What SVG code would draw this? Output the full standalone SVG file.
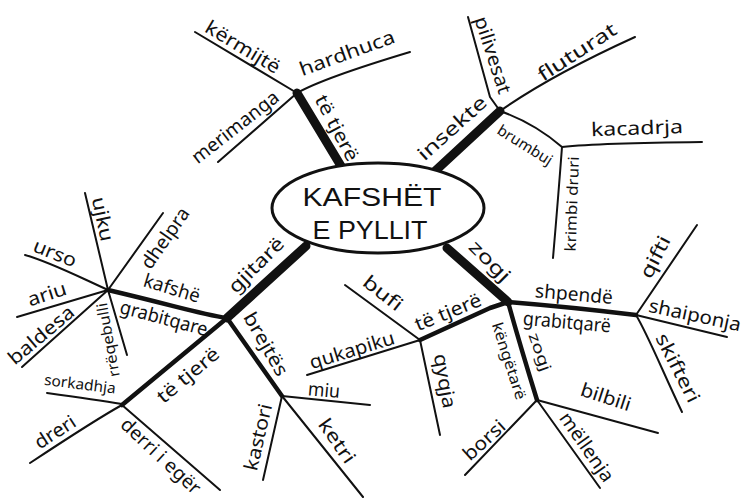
<svg xmlns="http://www.w3.org/2000/svg" width="747" height="498" viewBox="0 0 747 498">
<style>
.c{fill:none;stroke:#111;stroke-linecap:round;stroke-linejoin:round;stroke-width:2}
.m{stroke-width:4.5}
.k{stroke-width:9}
.t{font-family:"Noto Sans","Liberation Sans",sans-serif;font-size:19px;fill:#111;text-anchor:middle}
.s{font-size:15px}
.ti{font-family:"Liberation Sans","Noto Sans",sans-serif;font-size:25px;fill:#111;text-anchor:middle}
</style>
<rect width="747" height="498" fill="#fff"/>
<g id="connectors">
<path class="c k" d="M341,166 L297,93"/>
<path class="c k" d="M433,173 L500,111"/>
<path class="c k" d="M306,246 L227,318"/>
<path class="c k" d="M447,248 L508,302"/>
<path class="c m" d="M227,318 C200,314 180,307 108,290"/>
<path class="c m" d="M227,318 L122,405"/>
<path class="c m" d="M227,318 L282,396"/>
<path class="c m" d="M508,302 Q570,307 636,315"/>
<path class="c m" d="M508,302 Q520,345 537,400"/>
<path class="c m" d="M508,302 L490,308 L420,340"/>
<path class="c" d="M195,32 L297,93"/>
<path class="c" d="M297,93 C320,80 360,67 410,52"/>
<path class="c" d="M297,93 L218,162"/>
<path class="c" d="M468,17 Q480,60 490,97 L500,111"/>
<path class="c" d="M500,111 C530,90 580,62 635,37"/>
<path class="c" d="M500,111 C520,118 540,128 562,147"/>
<path class="c" d="M562,147 Q600,143 702,142"/>
<path class="c" d="M562,147 Q558,200 553,258"/>
<path class="c" d="M85,193 L108,290"/>
<path class="c" d="M108,290 L163,213"/>
<path class="c" d="M25,255 C50,262 75,275 108,290"/>
<path class="c" d="M108,290 L17,317"/>
<path class="c" d="M108,290 L22,367"/>
<path class="c" d="M108,290 L127,355"/>
<path class="c" d="M282,396 Q320,400 370,405"/>
<path class="c" d="M282,396 L263,480"/>
<path class="c" d="M282,396 L363,497"/>
<path class="c" d="M47,393 Q97,400 122,404"/>
<path class="c" d="M122,405 C100,417 80,430 30,463"/>
<path class="c" d="M122,405 L220,490"/>
<path class="c" d="M636,315 L697,225"/>
<path class="c" d="M636,315 L727,337"/>
<path class="c" d="M636,315 C648,335 662,370 682,412"/>
<path class="c" d="M537,400 L658,433"/>
<path class="c" d="M537,400 L600,488"/>
<path class="c" d="M537,400 L465,475"/>
<path class="c" d="M345,285 L420,340"/>
<path class="c" d="M420,340 L307,375"/>
<path class="c" d="M420,340 L440,435"/>
</g>
<g id="center">
<ellipse cx="378" cy="208" rx="106" ry="45" fill="#fff" stroke="#111" stroke-width="3"/>
<text class="ti" x="372" y="206" textLength="139" lengthAdjust="spacingAndGlyphs">KAFSHËT</text>
<text class="ti" x="370" y="239" textLength="115" lengthAdjust="spacingAndGlyphs">E PYLLIT</text>
</g>
<g id="te-tjere-top"><text class="t" transform="translate(337,128) rotate(62)" dy="0.35em" textLength="72" lengthAdjust="spacingAndGlyphs">të tjerë</text></g>
<g id="kermijte"><text class="t" transform="translate(243,47) rotate(31)" dy="0.35em" textLength="84" lengthAdjust="spacingAndGlyphs">kërmijtë</text></g>
<g id="hardhuca"><text class="t" transform="translate(347,53) rotate(-20)" dy="0.35em" textLength="100" lengthAdjust="spacingAndGlyphs">hardhuca</text></g>
<g id="merimanga"><text class="t" transform="translate(235,127) rotate(-38)" dy="0.35em" textLength="105" lengthAdjust="spacingAndGlyphs">merimanga</text></g>
<g id="insekte"><text class="t" transform="translate(452,128) rotate(-42)" dy="0.35em" textLength="86" lengthAdjust="spacingAndGlyphs">insekte</text></g>
<g id="pilivesat"><text class="t" transform="translate(493,55) rotate(72)" dy="0.35em" textLength="80" lengthAdjust="spacingAndGlyphs">pilivesat</text></g>
<g id="fluturat"><text class="t" transform="translate(577,52) rotate(-33)" dy="0.35em" textLength="90" lengthAdjust="spacingAndGlyphs">fluturat</text></g>
<g id="brumbuj"><text class="t s" transform="translate(525,145) rotate(32)" dy="0.35em" textLength="62" lengthAdjust="spacingAndGlyphs">brumbuj</text></g>
<g id="kacadrja"><text class="t" transform="translate(637,128) rotate(-2)" dy="0.35em" textLength="92" lengthAdjust="spacingAndGlyphs">kacadrja</text></g>
<g id="krimbi-druri"><text class="t s" transform="translate(572,204) rotate(-88)" dy="0.35em" textLength="95" lengthAdjust="spacingAndGlyphs">krimbi druri</text></g>
<g id="gjitare"><text class="t" transform="translate(256,265) rotate(-45)" dy="0.35em" textLength="70" lengthAdjust="spacingAndGlyphs">gjitarë</text></g>
<g id="kafshe-grabitqare"><text class="t" transform="translate(172,288) rotate(17)" dy="0.35em" textLength="58" lengthAdjust="spacingAndGlyphs">kafshë</text><text class="t" transform="translate(164,318) rotate(15)" dy="0.35em" textLength="90" lengthAdjust="spacingAndGlyphs">grabitqare</text></g>
<g id="ujku"><text class="t" transform="translate(103,219) rotate(78)" dy="0.35em" textLength="45" lengthAdjust="spacingAndGlyphs">ujku</text></g>
<g id="dhelpra"><text class="t" transform="translate(165,238) rotate(-55)" dy="0.35em" textLength="70" lengthAdjust="spacingAndGlyphs">dhelpra</text></g>
<g id="urso"><text class="t" transform="translate(55,253) rotate(22)" dy="0.35em" textLength="45" lengthAdjust="spacingAndGlyphs">urso</text></g>
<g id="ariu"><text class="t" transform="translate(47,294) rotate(-18)" dy="0.35em" textLength="40" lengthAdjust="spacingAndGlyphs">ariu</text></g>
<g id="baldesa"><text class="t" transform="translate(41,335) rotate(-40)" dy="0.35em" textLength="80" lengthAdjust="spacingAndGlyphs">baldesa</text></g>
<g id="rreqebulli"><text class="t s" transform="translate(108,340) rotate(-100)" dy="0.35em" textLength="75" lengthAdjust="spacingAndGlyphs">rrëqebulli</text></g>
<g id="brejtes"><text class="t" transform="translate(266,344) rotate(60)" dy="0.35em" textLength="70" lengthAdjust="spacingAndGlyphs">brejtës</text></g>
<g id="miu"><text class="t" transform="translate(324,390) rotate(5)" dy="0.35em" textLength="32" lengthAdjust="spacingAndGlyphs">miu</text></g>
<g id="kastori"><text class="t" transform="translate(258,437) rotate(-77)" dy="0.35em" textLength="68" lengthAdjust="spacingAndGlyphs">kastori</text></g>
<g id="ketri"><text class="t" transform="translate(337,441) rotate(55)" dy="0.35em" textLength="50" lengthAdjust="spacingAndGlyphs">ketri</text></g>
<g id="te-tjere-left"><text class="t" transform="translate(188,375) rotate(-40)" dy="0.35em" textLength="75" lengthAdjust="spacingAndGlyphs">të tjerë</text></g>
<g id="sorkadhja"><text class="t s" transform="translate(80,384) rotate(7)" dy="0.35em" textLength="72" lengthAdjust="spacingAndGlyphs">sorkadhja</text></g>
<g id="dreri"><text class="t" transform="translate(55,432) rotate(-33)" dy="0.35em" textLength="45" lengthAdjust="spacingAndGlyphs">dreri</text></g>
<g id="derri-i-eger"><text class="t" transform="translate(161,456) rotate(43)" dy="0.35em" textLength="102" lengthAdjust="spacingAndGlyphs">derri i egër</text></g>
<g id="zogj"><text class="t" transform="translate(490,261) rotate(45)" dy="0.35em" textLength="50" lengthAdjust="spacingAndGlyphs">zogj</text></g>
<g id="shpende-grabitqare"><text class="t" transform="translate(574,294) rotate(5)" dy="0.35em" textLength="78" lengthAdjust="spacingAndGlyphs">shpendë</text><text class="t" transform="translate(567,322) rotate(5)" dy="0.35em" textLength="88" lengthAdjust="spacingAndGlyphs">grabitqarë</text></g>
<g id="qifti"><text class="t" transform="translate(655,257) rotate(-63)" dy="0.35em" textLength="45" lengthAdjust="spacingAndGlyphs">qifti</text></g>
<g id="shaiponja"><text class="t" transform="translate(695,315) rotate(12)" dy="0.35em" textLength="94" lengthAdjust="spacingAndGlyphs">shaiponja</text></g>
<g id="skifteri"><text class="t" transform="translate(678,368) rotate(63)" dy="0.35em" textLength="75" lengthAdjust="spacingAndGlyphs">skifteri</text></g>
<g id="kengetare-zogj"><text class="t s" transform="translate(509,361) rotate(72)" dy="0.35em" textLength="80" lengthAdjust="spacingAndGlyphs">këngëtarë</text><text class="t s" transform="translate(540,352) rotate(70)" dy="0.35em" textLength="40" lengthAdjust="spacingAndGlyphs">zogj</text></g>
<g id="bilbili"><text class="t" transform="translate(606,397) rotate(18)" dy="0.35em" textLength="52" lengthAdjust="spacingAndGlyphs">bilbili</text></g>
<g id="mellenja"><text class="t" transform="translate(587,447) rotate(55)" dy="0.35em" textLength="80" lengthAdjust="spacingAndGlyphs">mëllenja</text></g>
<g id="borsi"><text class="t" transform="translate(484,440) rotate(-42)" dy="0.35em" textLength="50" lengthAdjust="spacingAndGlyphs">borsi</text></g>
<g id="te-tjere-birds"><text class="t" transform="translate(448,312) rotate(-22)" dy="0.35em" textLength="70" lengthAdjust="spacingAndGlyphs">të tjerë</text></g>
<g id="bufi"><text class="t" transform="translate(383,293) rotate(38)" dy="0.35em" textLength="45" lengthAdjust="spacingAndGlyphs">bufi</text></g>
<g id="qukapiku"><text class="t" transform="translate(352,350) rotate(-17)" dy="0.35em" textLength="88" lengthAdjust="spacingAndGlyphs">qukapiku</text></g>
<g id="qyqja"><text class="t" transform="translate(445,381) rotate(80)" dy="0.35em" textLength="55" lengthAdjust="spacingAndGlyphs">qyqja</text></g>
</svg>
